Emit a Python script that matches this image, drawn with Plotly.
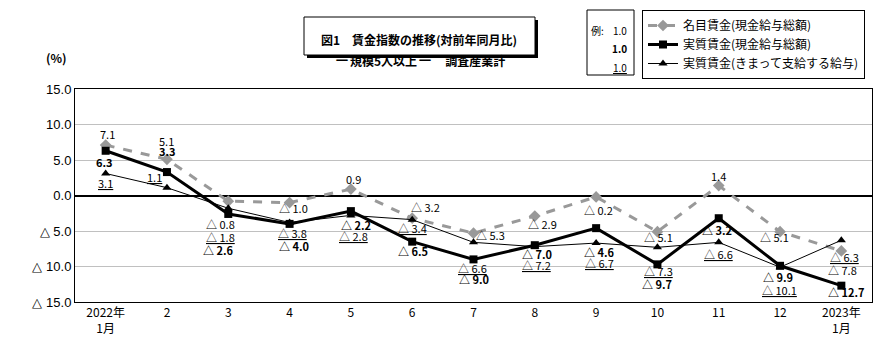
import plotly.graph_objects as go

months = ["2022年<br>1月", "2", "3", "4", "5", "6", "7", "8", "9", "10", "11", "12", "2023年<br>1月"]
nominal = [7.1, 5.1, -0.8, -1.0, 0.9, -3.2, -5.3, -2.9, -0.2, -5.1, 1.4, -5.1, -7.8]
real = [6.3, 3.3, -2.6, -4.0, -2.2, -6.5, -9.0, -7.0, -4.6, -9.7, -3.2, -9.9, -12.7]
sched = [3.1, 1.1, -1.8, -3.8, -2.8, -3.4, -6.6, -7.2, -6.7, -7.3, -6.6, -10.1, -6.3]
ytick_vals = [15, 10, 5, 0, -5, -10, -15]
ytick_text = ["15.0", "10.0", "5.0", "0.0", "△ 5.0", "△ 10.0", "△ 15.0"]
names = ["名目賃金(現金給与総額)", "実質賃金(現金給与総額)", "実質賃金(きまって支給する給与)"]

# label offsets (pixels): (dx, dy downward)
nom_off = [(2, -11), (0, -18), (-8, 23), (4, 5), (3, -10), (13, -11), (17, 2), (8, 8), (2, 13), (1, 5), (0, -10), (-6, 5), (1, 19)]
real_off = [(-1, 11), (1, -21), (-10, 36), (4, 22), (5, 14), (1, 9), (0, 20), (2, 9), (3, 24), (0, 20), (-2, 12), (-2, 11), (5, 6)]
sched_off = [(0, 10), (-12, -11), (-8, 29), (3, 11), (3, 21), (0, 8), (-1, 26), (2, 18), (3, 20), (1, 24), (0, 12), (-1, 23), (3, 17)]

FONT = "Noto Sans CJK JP"
xs = list(range(len(months)))

fig = go.Figure()
fig.add_trace(go.Scatter(x=xs, y=nominal, name=names[0], mode="lines+markers",
                         line=dict(color="#999999", width=3, dash="dash"),
                         marker=dict(symbol="diamond", size=9, color="#999999")))
fig.add_trace(go.Scatter(x=xs, y=real, name=names[1], mode="lines+markers",
                         line=dict(color="black", width=3),
                         marker=dict(symbol="square", size=8, color="black")))
fig.add_trace(go.Scatter(x=xs, y=sched, name=names[2], mode="lines+markers",
                         line=dict(color="black", width=1),
                         marker=dict(symbol="triangle-up", size=8, color="black")))


def fmt(v):
    return f"{v:.1f}" if v >= 0 else f"△ {-v:.1f}"


anns = []
for series, offs, kind in [(nominal, nom_off, "n"), (real, real_off, "r"), (sched, sched_off, "s")]:
    for i, (v, (dx, dy)) in enumerate(zip(series, offs)):
        t = fmt(v)
        if kind == "r":
            t = f"<b>{t}</b>"
        elif kind == "s":
            t = f"<u>{t}</u>"
        anns.append(dict(x=i, y=v, xref="x", yref="y", text=t, showarrow=False,
                         xshift=dx, yshift=-dy, font=dict(family=FONT, size=11, color="black")))

# page has an 8px body margin: screen coords = figure coords + 8
OFF = 8
W, H = 890 - OFF, 361 - OFF
L, R, T, B = 75 - OFF, 872 - OFF, 89 - OFF, 302 - OFF


def px(x):
    return (x - OFF - L) / (R - L)


def py(y):
    return (B - (y - OFF)) / (B - T)


shapes = [
    # title shadow and box
    dict(type="rect", xref="paper", yref="paper", x0=px(307), x1=px(538), y0=py(58), y1=py(20),
         fillcolor="black", line=dict(width=0), layer="above"),
    dict(type="rect", xref="paper", yref="paper", x0=px(304), x1=px(535), y0=py(55), y1=py(17),
         fillcolor="white", line=dict(color="black", width=1), layer="above"),
    # example box
    dict(type="rect", xref="paper", yref="paper", x0=px(587), x1=px(634), y0=py(75), y1=py(10),
         fillcolor="white", line=dict(color="black", width=1), layer="above"),
]

DASH = "<span style='font-size:16px'>－</span>"
anns += [
    dict(xref="paper", yref="paper", x=px(419), y=py(29), text="<b>図1　賃金指数の推移(対前年同月比)</b>",
         showarrow=False, font=dict(family=FONT, size=12, color="black")),
    dict(xref="paper", yref="paper", x=px(419), y=py(45),
         text=f"<b>{DASH}規模5人以上{DASH}　調査産業計</b>",
         showarrow=False, font=dict(family=FONT, size=12, color="black")),
    dict(xref="paper", yref="paper", x=px(589), y=py(21), xanchor="left", text="例:",
         showarrow=False, font=dict(family=FONT, size=10, color="black")),
    dict(xref="paper", yref="paper", x=px(629), y=py(21), xanchor="right", text="1.0",
         showarrow=False, font=dict(family=FONT, size=10, color="black")),
    dict(xref="paper", yref="paper", x=px(629), y=py(39), xanchor="right", text="<b>1.0</b>",
         showarrow=False, font=dict(family=FONT, size=10, color="black")),
    dict(xref="paper", yref="paper", x=px(629), y=py(58), xanchor="right", text="<u>1.0</u>",
         showarrow=False, font=dict(family=FONT, size=10, color="black")),
    dict(xref="paper", yref="paper", x=px(44), y=py(47), text="<b>(%)</b>",
         showarrow=False, font=dict(family=FONT, size=12, color="black")),
]

fig.update_layout(
    width=W, height=H,
    margin=dict(l=L, r=W - R, t=T, b=H - B, autoexpand=False),
    paper_bgcolor="white", plot_bgcolor="white",
    font=dict(family=FONT, size=12, color="black"),
    showlegend=True,
    legend=dict(x=px(642), y=py(10), xanchor="left", yanchor="top",
                bordercolor="black", borderwidth=1, bgcolor="white",
                font=dict(family=FONT, size=12, color="black"),
                tracegroupgap=0, itemwidth=30),
    xaxis=dict(range=[-0.5, 12.5], tickvals=xs, ticktext=months, showgrid=False,
               showline=True, linecolor="black", mirror=True, ticks="", zeroline=False,
               automargin=False, tickfont=dict(family=FONT, size=12)),
    yaxis=dict(range=[-15, 15], tickvals=ytick_vals, ticktext=ytick_text, showgrid=True,
               gridcolor="#c0c0c0", gridwidth=1, zeroline=True, zerolinecolor="black",
               zerolinewidth=2, showline=True, linecolor="black", mirror=True, ticks="",
               automargin=False, tickfont=dict(family="Liberation Sans", size=13)),
    annotations=anns,
    shapes=shapes,
)

fig.write_html("out.html")
